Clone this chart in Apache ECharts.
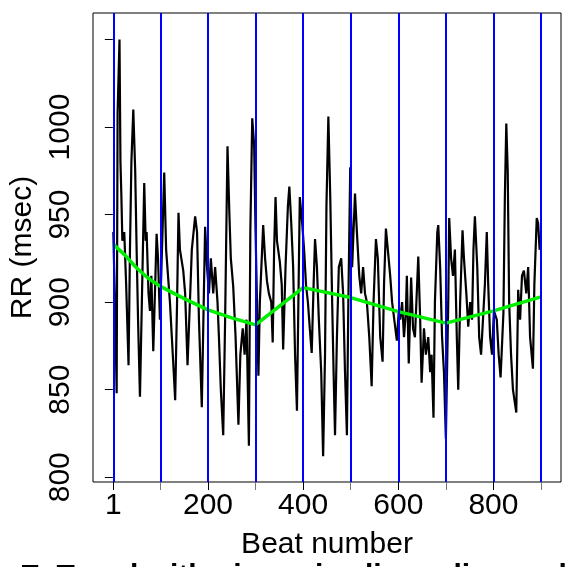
<!DOCTYPE html>
<html><head><meta charset="utf-8">
<script src="https://cdn.jsdelivr.net/npm/echarts@6/dist/echarts.min.js"></script>
<style>html,body{margin:0;padding:0;background:#fff}#c{width:570px;height:567px}</style>
</head><body><div id="c"></div>
<script>
// ---- data ----
const beats = [1,6,8,10,14,16,18,20,24,28,33,36,39,43,47,50,53,57,61,66,69,71,75,78,81,85,89,92,95,99,108,112,116,120,124,128,131,135,138,141,148,152,157,162,166,173,177,181,187,191,194,198,202,206,211,215,220,223,227,232,236,241,245,248,253,258,264,268,273,277,281,286,289,293,297,300,303,306,309,316,320,324,328,333,336,339,342,345,351,355,358,363,368,371,375,379,383,387,390,393,398,402,406,410,414,418,422,425,429,433,438,442,446,449,453,457,461,464,467,471,475,480,484,488,492,495,499,503,509,513,518,522,526,530,534,539,544,548,553,557,562,567,570,574,578,583,587,591,597,601,604,608,612,616,618,622,627,631,635,642,646,649,654,658,663,667,670,674,677,682,684,688,692,696,700,705,707,711,715,719,723,726,730,735,738,743,747,751,755,758,761,766,770,774,778,782,786,789,793,797,801,807,811,815,821,824,827,830,833,837,841,848,852,856,860,864,869,873,877,883,886,891,894,897,900];
const rr = [940,880,848,1008,1050,980,960,935,940,910,864,930,980,1010,975,930,890,846,900,968,935,940,905,895,915,872,910,939,925,890,974,930,915,900,880,860,844,900,951,930,918,905,864,900,930,949,940,890,840,900,943,920,905,925,905,920,900,880,850,824,890,989,950,925,909,880,830,870,885,870,890,818,940,1005,990,940,900,858,900,944,925,912,905,900,877,930,960,935,923,910,873,920,955,966,945,920,870,838,900,960,945,930,910,900,885,871,910,936,920,890,860,812,870,955,1006,960,900,860,824,880,920,925,905,860,824,900,977,920,962,940,915,905,920,905,900,880,852,900,936,925,880,866,910,942,930,915,900,900,878,895,890,900,880,895,915,865,914,885,880,926,890,854,885,870,880,860,870,834,900,940,944,920,880,860,822,900,948,925,915,930,880,850,900,941,925,905,886,900,890,930,949,920,880,870,890,910,940,910,880,870,895,890,870,857,894,960,1002,975,900,870,850,837,907,890,915,918,905,920,880,862,910,948,945,930,932];
const trendBeats = [1,25,50,75,100,150,200,250,300,400,500,600,700,800,900];
const trendRR    = [933,927,919.5,913.5,909,902,895.6,891,887,908.3,902.6,894.6,888,895,903];
const boundaries = [1,100,200,300,400,500,600,700,800,900];
const xTickLabels = [1,200,400,600,800];
const xMinorTicks = [100,300,500,700,900];
const yTicks = [800,850,900,950,1000,1050];
const yTickLabels = [800,850,900,950,1000];
const xTitle = 'Beat number';
const yTitle = 'RR (msec)';
const mainTitle = 'E. Trend with piecewise linear line and trend';

const FONT = '"Liberation Sans", Arial, Helvetica, sans-serif';
const chart = echarts.init(document.getElementById('c'), null, {renderer:'canvas'});
const xMin = -41.7, xMax = 942, yMin = 797.3, yMax = 1065.1;
const plain = v => String(Math.round(v));
chart.setOption({
  animation:false,
  backgroundColor:'#fff',
  title:{text:mainTitle, left:330, top:557, textAlign:'center',
    textStyle:{fontFamily:FONT, fontSize:30, fontWeight:'bold', color:'#000', lineHeight:30}},
  grid:{left:93, top:13, width:468, height:469, show:true, borderColor:'#000', borderWidth:1, backgroundColor:'transparent', containLabel:false},
  xAxis:[{
    type:'value', min:xMin, max:xMax, position:'bottom',
    name:xTitle, nameLocation:'middle', nameGap:48,
    nameTextStyle:{fontFamily:FONT, fontSize:30, color:'#000', lineHeight:30},
    axisLine:{show:false}, splitLine:{show:false},
    axisTick:{show:true, length:8, customValues:xTickLabels, lineStyle:{color:'#000', width:1}},
    axisLabel:{show:true, customValues:xTickLabels, formatter:plain, margin:9, fontFamily:FONT, fontSize:30, color:'#000', lineHeight:30}
  },{
    type:'value', min:xMin, max:xMax, position:'bottom',
    axisLine:{show:false}, splitLine:{show:false},
    axisTick:{show:true, length:8, customValues:xMinorTicks, lineStyle:{color:'#777', width:1}},
    axisLabel:{show:false}
  }],
  yAxis:{
    type:'value', min:yMin, max:yMax,
    name:yTitle, nameLocation:'middle', nameGap:55, nameRotate:90,
    nameTextStyle:{fontFamily:FONT, fontSize:30, color:'#000', lineHeight:30},
    axisLine:{show:false}, splitLine:{show:false},
    axisTick:{show:true, length:8, customValues:yTicks, lineStyle:{color:'#000', width:1}},
    axisLabel:{show:true, customValues:yTickLabels, formatter:plain, rotate:90, margin:17, fontFamily:FONT, fontSize:30, color:'#000', lineHeight:30}
  },
  series:[
    {type:'line', name:'RR', xAxisIndex:0, data:beats.map((b,i)=>[b, rr[i]]), showSymbol:false, symbol:'none',
      lineStyle:{color:'#000', width:2.2}, z:2, silent:true},
    {type:'line', name:'bounds', xAxisIndex:0, data:[], z:3, silent:true,
      markLine:{silent:true, symbol:['none','none'], label:{show:false}, animation:false,
        lineStyle:{color:'#0000FF', width:2, type:'solid'},
        data:boundaries.map(b=>({xAxis:b}))}},
    {type:'line', name:'trend', xAxisIndex:0, data:trendBeats.map((b,i)=>[b, trendRR[i]]), showSymbol:false, symbol:'none',
      lineStyle:{color:'#00EE00', width:3.5}, z:4, silent:true}
  ]
});
</script></body></html>
